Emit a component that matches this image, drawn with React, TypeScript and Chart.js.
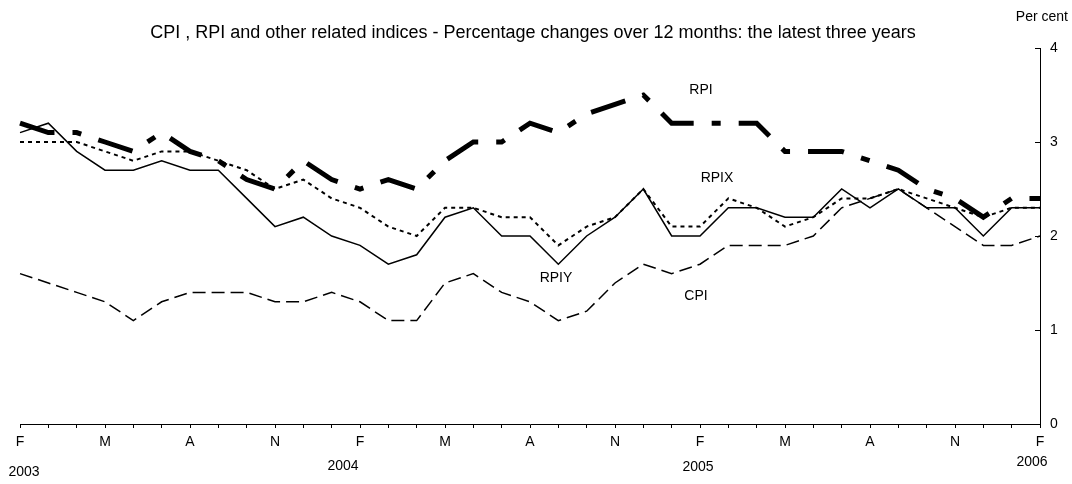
import React, { useEffect, useRef } from "react";
import { Chart, registerables } from "chart.js";

Chart.register(...registerables);

const months = [
  "2003-02", "2003-03", "2003-04", "2003-05", "2003-06", "2003-07", "2003-08", "2003-09", "2003-10", "2003-11", "2003-12",
  "2004-01", "2004-02", "2004-03", "2004-04", "2004-05", "2004-06", "2004-07", "2004-08", "2004-09", "2004-10", "2004-11", "2004-12",
  "2005-01", "2005-02", "2005-03", "2005-04", "2005-05", "2005-06", "2005-07", "2005-08", "2005-09", "2005-10", "2005-11", "2005-12",
  "2006-01", "2006-02",
];

const tickLetters = ["F", "M", "A", "N", "F", "M", "A", "N", "F", "M", "A", "N", "F"];
const yearLabels = ["2003", "2004", "2005", "2006"];

const rpi = [3.2, 3.1, 3.1, 3.0, 2.9, 3.1, 2.9, 2.8, 2.6, 2.5, 2.8, 2.6, 2.5, 2.6, 2.5, 2.8, 3.0, 3.0, 3.2, 3.1, 3.3, 3.4, 3.5, 3.2, 3.2, 3.2, 3.2, 2.9, 2.9, 2.9, 2.8, 2.7, 2.5, 2.4, 2.2, 2.4, 2.4];
const rpix = [3.0, 3.0, 3.0, 2.9, 2.8, 2.9, 2.9, 2.8, 2.7, 2.5, 2.6, 2.4, 2.3, 2.1, 2.0, 2.3, 2.3, 2.2, 2.2, 1.9, 2.1, 2.2, 2.5, 2.1, 2.1, 2.4, 2.3, 2.1, 2.2, 2.4, 2.4, 2.5, 2.4, 2.3, 2.2, 2.3, 2.3];
const rpiy = [3.1, 3.2, 2.9, 2.7, 2.7, 2.8, 2.7, 2.7, 2.4, 2.1, 2.2, 2.0, 1.9, 1.7, 1.8, 2.2, 2.3, 2.0, 2.0, 1.7, 2.0, 2.2, 2.5, 2.0, 2.0, 2.3, 2.3, 2.2, 2.2, 2.5, 2.3, 2.5, 2.3, 2.3, 2.0, 2.3, 2.3];
const cpi = [1.6, 1.5, 1.4, 1.3, 1.1, 1.3, 1.4, 1.4, 1.4, 1.3, 1.3, 1.4, 1.3, 1.1, 1.1, 1.5, 1.6, 1.4, 1.3, 1.1, 1.2, 1.5, 1.7, 1.6, 1.7, 1.9, 1.9, 1.9, 2.0, 2.3, 2.4, 2.5, 2.3, 2.1, 1.9, 1.9, 2.0];

const titleText = "CPI , RPI and other related indices - Percentage changes over 12 months: the latest three years";
const FONT = '"Liberation Sans", Arial, sans-serif';

const textPlugin = {
  id: "freeTexts",
  afterDraw(chart: any) {
    const ctx = chart.ctx;
    ctx.save();
    ctx.fillStyle = "#000";
    ctx.textBaseline = "middle";
    ctx.textAlign = "center";
    ctx.font = `18px ${FONT}`;
    ctx.fillText(titleText, 533, 33);
    ctx.font = `14px ${FONT}`;
    ctx.textAlign = "right";
    ctx.fillText("Per cent", 1068, 17);
    ctx.textAlign = "center";
    const yearPos = [
      [24, 472],
      [343, 466],
      [698, 467],
      [1032, 462],
    ];
    yearLabels.forEach((t, i) => ctx.fillText(t, yearPos[i][0], yearPos[i][1]));
    const seriesPos: [string, number, number][] = [
      ["RPI", 701, 90],
      ["RPIX", 717, 178],
      ["RPIY", 556, 278],
      ["CPI", 696, 296],
    ];
    seriesPos.forEach(([t, x, y]) => ctx.fillText(t, x, y));
    ctx.restore();
  },
};

export default function App() {
  const ref = useRef<HTMLCanvasElement>(null);
  useEffect(() => {
    if (!ref.current) return;
    const chart = new Chart(ref.current, {
      type: "line",
      data: {
        labels: months,
        datasets: [
          {
            label: "RPI",
            data: rpi,
            borderColor: "#000",
            borderWidth: 5,
            borderDash: [36, 18, 9, 18],
            pointRadius: 0,
            tension: 0,
            fill: false,
          },
          {
            label: "RPIX",
            data: rpix,
            borderColor: "#000",
            borderWidth: 2,
            borderDash: [4, 4],
            pointRadius: 0,
            tension: 0,
            fill: false,
          },
          {
            label: "RPIY",
            data: rpiy,
            borderColor: "#000",
            borderWidth: 1.5,
            pointRadius: 0,
            tension: 0,
            fill: false,
          },
          {
            label: "CPI",
            data: cpi,
            borderColor: "#000",
            borderWidth: 1.5,
            borderDash: [13, 6],
            pointRadius: 0,
            tension: 0,
            fill: false,
          },
        ],
      },
      options: {
        animation: false,
        responsive: true,
        maintainAspectRatio: false,
        layout: { padding: { left: 20, top: 48, right: 0, bottom: 0 } },
        plugins: {
          legend: { display: false },
          title: { display: false },
          tooltip: { enabled: false },
        },
        scales: {
          x: {
            type: "category",
            position: "bottom",
            afterFit: (s: any) => {
              s.height = 60;
            },
            grid: {
              drawOnChartArea: false,
              drawTicks: true,
              tickLength: 4,
              color: "#000",
            },
            border: { display: true, color: "#000", width: 1 },
            ticks: {
              autoSkip: false,
              maxRotation: 0,
              minRotation: 0,
              padding: 6,
              color: "#000",
              font: { family: FONT, size: 14 },
              callback: (_v: any, i: number) => (i % 3 === 0 ? tickLetters[i / 3] : ""),
            },
          },
          y: {
            position: "right",
            min: 0,
            max: 4,
            afterFit: (s: any) => {
              s.width = 32;
            },
            grid: {
              drawOnChartArea: false,
              drawTicks: true,
              tickLength: -5,
              color: "#000",
            },
            border: { display: true, color: "#000", width: 1 },
            ticks: {
              stepSize: 1,
              padding: 15,
              color: "#000",
              font: { family: FONT, size: 14 },
            },
          },
        },
      },
      plugins: [textPlugin],
    });
    return () => chart.destroy();
  }, []);
  return (
    <div style={{ position: "absolute", left: 0, top: 0, width: 1072, height: 484 }}>
      <canvas ref={ref} />
    </div>
  );
}
